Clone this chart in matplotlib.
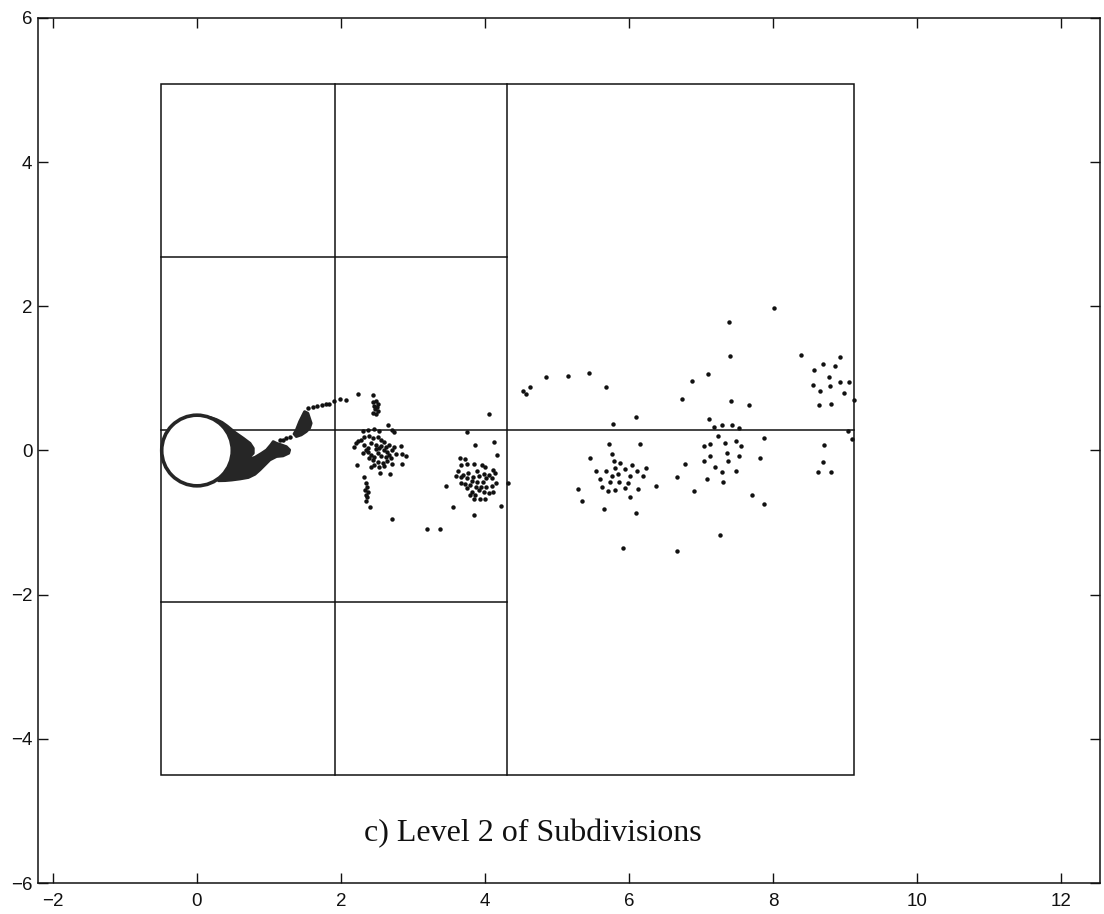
import matplotlib
matplotlib.use("Agg")
import matplotlib.pyplot as plt
from matplotlib.patches import Circle, Polygon, Rectangle

# ---------------- data ----------------
# subdivision boxes
box_x = [-0.50, 9.12]
box_y = [-4.50, 5.08]
level1_x = 4.30
level1_y = 0.29
level2_x = 1.91
level2_y = [2.69, -2.10]

# cylinder
cyl_center = (0.0, 0.0)
cyl_radius = 0.49

# dense wake blob attached to cylinder (outline)
wake_blob_x = [0.18, 0.27, 0.35, 0.42, 0.529, 0.644, 0.736, 0.782, 0.782, 0.736, 0.667, 0.644, 0.690,
               0.805, 0.897, 0.966, 1.025, 1.058, 1.104, 1.173, 1.241, 1.287, 1.274,
               1.195, 1.104, 1.012, 0.943, 0.874, 0.805, 0.713, 0.598, 0.483, 0.391, 0.30,
               0.20, 0.0, 0.10]
wake_blob_y = [0.46, 0.43, 0.39, 0.34, 0.250, 0.170, 0.101, 0.031, -0.038, -0.084, -0.098, -0.075, -0.131,
               -0.094, -0.038, 0.008, 0.078, 0.124, 0.101, 0.078, 0.054, 0.008, -0.038,
               -0.075, -0.084, -0.131, -0.200, -0.269, -0.330, -0.375, -0.395, -0.410, -0.418, -0.42,
               -0.30, 0.0, 0.30]

# second small dense blob
upper_blob_x = [1.379, 1.425, 1.471, 1.494, 1.540, 1.563, 1.586, 1.563, 1.517, 1.448, 1.379, 1.347]
upper_blob_y = [0.285, 0.401, 0.494, 0.540, 0.517, 0.447, 0.378, 0.309, 0.262, 0.216, 0.193, 0.230]

# individual vortex particles
particles_x = [
    # trail
    1.15, 1.19, 1.24, 1.29, 1.54, 1.61, 1.67, 1.73, 1.79, 1.84, 1.90, 1.98, 2.07, 2.23, 2.45,
    # small cluster
    2.45, 2.49, 2.52, 2.46, 2.50, 2.47, 2.51, 2.45, 2.49,
    # cluster near x=2.5
    2.65, 2.71, 2.74, 2.30, 2.37, 2.46, 2.53, 2.21, 2.18, 2.23, 2.28, 2.32, 2.39, 2.44,
    2.51, 2.55, 2.60, 2.67, 2.74, 2.83, 2.32, 2.37, 2.41, 2.48, 2.53, 2.60, 2.64, 2.71,
    2.76, 2.85, 2.90, 2.30, 2.37, 2.41, 2.46, 2.51, 2.55, 2.62, 2.67, 2.44, 2.51, 2.58,
    2.64, 2.71, 2.85, 2.22, 2.46, 2.53, 2.60, 2.35, 2.39, 2.48, 2.55, 2.62, 2.69, 2.41,
    2.54, 2.68,
    # trail below
    2.32, 2.35, 2.36, 2.33, 2.37, 2.35, 2.36, 2.35, 2.40, 2.71, 3.20, 3.38,
    # cluster near x=4
    3.65, 3.72, 3.85, 3.96, 4.00, 3.66, 3.75, 3.63, 3.70, 3.77, 3.89, 3.98, 4.06, 4.11,
    4.14, 3.83, 3.92, 3.60, 3.67, 3.75, 3.82, 3.89, 3.97, 4.02, 4.09, 4.15, 3.66, 3.72,
    3.79, 3.88, 3.95, 4.02, 4.09, 4.11, 3.75, 3.82, 3.91, 3.99, 4.06, 3.79, 3.86, 3.93,
    4.00, 3.84,
    3.46, 3.56, 3.84, 4.22, 4.32, 4.05, 3.86, 4.13, 4.17, 3.75,
    # cluster near x=6
    4.53, 4.57, 4.62, 4.85, 5.15, 5.45, 5.68, 5.78, 6.09, 6.15, 5.72, 5.77, 5.46, 5.79,
    5.88, 6.04, 6.23, 5.54, 5.68, 5.80, 5.94, 6.11, 5.59, 5.76, 5.85, 6.01, 6.20, 5.62,
    5.73, 5.86, 5.99, 5.71, 5.80, 5.94, 6.12, 6.02, 5.29, 5.34, 5.65, 6.09, 6.38, 5.92,
    6.66, 6.66, 6.77, 6.73, 6.87, 7.10, 7.11, 7.18, 7.23, 7.04, 7.13, 7.13, 7.04, 7.19,
    7.08, 6.90, 7.26,
    # cluster near x=7.4
    8.01, 7.39, 7.40, 8.39, 7.41, 7.67, 7.29, 7.43, 7.53, 7.88, 7.33, 7.48, 7.56, 7.36,
    7.37, 7.53, 7.82, 7.29, 7.48, 7.30, 7.71, 7.88,
    # cluster near x=8.8
    8.57, 8.70, 8.86, 8.93, 8.78, 8.56, 8.65, 8.79, 8.93, 9.06, 8.98, 8.64, 8.81, 9.12,
    9.04, 9.10, 8.71, 8.70, 8.62, 8.81,
]
particles_y = [
    # trail
    0.14, 0.15, 0.17, 0.185, 0.59, 0.61, 0.62, 0.63, 0.64, 0.65, 0.68, 0.72, 0.70, 0.79, 0.77,
    # small cluster
    0.67, 0.68, 0.65, 0.62, 0.60, 0.57, 0.55, 0.52, 0.50,
    # cluster near x=2.5
    0.355, 0.285, 0.262, 0.276, 0.285, 0.295, 0.276, 0.100, 0.045, 0.138, 0.147, 0.184, 0.202, 0.170,
    0.184, 0.147, 0.124, 0.078, 0.054, 0.064, 0.078, 0.031, 0.100, 0.078, 0.031, 0.008, -0.015, 0.008,
    -0.047, -0.047, -0.075, -0.038, -0.015, -0.061, -0.084, -0.038, -0.075, -0.094, -0.061, -0.130, -0.154, -0.177,
    -0.140, -0.186, -0.186, -0.200, -0.200, -0.223, -0.214, 0.008, -0.107, 0.017, 0.064, 0.045, -0.107, -0.223,
    -0.306, -0.325,
    # trail below
    -0.371, -0.454, -0.500, -0.547, -0.570, -0.616, -0.640, -0.700, -0.780, -0.953, -1.083, -1.088,
    # cluster near x=4
    -0.107, -0.121, -0.190, -0.200, -0.223, -0.200, -0.190, -0.279, -0.339, -0.306, -0.279, -0.325, -0.339, -0.270,
    -0.316, -0.362, -0.353, -0.353, -0.371, -0.385, -0.422, -0.431, -0.431, -0.376, -0.376, -0.445, -0.454, -0.463,
    -0.477, -0.500, -0.510, -0.510, -0.490, -0.570, -0.524, -0.570, -0.547, -0.570, -0.593, -0.616, -0.616, -0.676,
    -0.676, -0.670,
    -0.490, -0.787, -0.893, -0.770, -0.445, 0.507, 0.073, 0.119, -0.061, 0.262,
    # cluster near x=6
    0.830, 0.780, 0.886, 1.025, 1.034, 1.071, 0.886, 0.369, 0.470, 0.087, 0.091, -0.047, -0.107, -0.140,
    -0.177, -0.200, -0.246, -0.283, -0.279, -0.246, -0.256, -0.279, -0.390, -0.348, -0.330, -0.353, -0.353, -0.510,
    -0.440, -0.431, -0.445, -0.556, -0.547, -0.524, -0.533, -0.640, -0.537, -0.700, -0.810, -0.870, -0.486, -1.356,
    -1.393, -0.362, -0.190, 0.715, 0.965, 1.062, 0.433, 0.331, 0.207, 0.063, 0.091, -0.075, -0.140, -0.223,
    -0.400, -0.565, -1.175,
    # cluster near x=7.4
    1.973, 1.788, 1.312, 1.321, 0.692, 0.632, 0.355, 0.355, 0.309, 0.179, 0.101, 0.133, 0.068, -0.038,
    -0.140, -0.075, -0.107, -0.292, -0.279, -0.436, -0.620, -0.745,
    # cluster near x=8.8
    1.118, 1.196, 1.173, 1.293, 1.025, 0.905, 0.826, 0.896, 0.956, 0.951, 0.803, 0.628, 0.642, 0.702,
    0.272, 0.165, 0.078, -0.158, -0.302, -0.292,
]

x_ticks = [-2, 0, 2, 4, 6, 8, 10, 12]
y_ticks = [-6, -4, -2, 0, 2, 4, 6]
caption = "c) Level 2 of Subdivisions"
caption_pos = (4.67, -5.31)

# ---------------- figure ----------------
fig = plt.figure(figsize=(11.04, 9.14), dpi=100)
ax = fig.add_axes([38 / 1104, 1 - 883 / 914, (1100 - 38) / 1104, (883 - 18) / 914])
ax.set_xlim(-2.208, 12.54)
ax.set_ylim(-6, 6)

line_kw = dict(color="#111111", lw=1.1, zorder=1)
ax.add_patch(Rectangle((box_x[0], box_y[0]), box_x[1] - box_x[0], box_y[1] - box_y[0],
                       fill=False, ec="#111111", lw=1.1, zorder=1))
ax.plot([level1_x, level1_x], box_y, **line_kw)
ax.plot(box_x, [level1_y, level1_y], **line_kw)
ax.plot([level2_x, level2_x], box_y, **line_kw)
for yy in level2_y:
    ax.plot([box_x[0], level1_x], [yy, yy], **line_kw)

ax.add_patch(Polygon(list(zip(wake_blob_x, wake_blob_y)), closed=True,
                     fc="#262626", ec="#262626", lw=2.0, joinstyle="round", zorder=2))
ax.add_patch(Polygon(list(zip(upper_blob_x, upper_blob_y)), closed=True,
                     fc="#262626", ec="#262626", lw=2.0, joinstyle="round", zorder=2))
ax.add_patch(Circle(cyl_center, cyl_radius, fc="white", ec="#262626", lw=2.6, zorder=3))

ax.plot(particles_x, particles_y, "o", color="#111111", ms=3.2, mew=0, zorder=4)

ax.text(caption_pos[0], caption_pos[1], caption, ha="center", va="center",
        fontsize=23, family="Liberation Serif", color="#111111")

ax.set_xticks(x_ticks)
ax.set_yticks(y_ticks)
ax.tick_params(direction="in", length=7, width=1.0, top=True, right=True,
               labelsize=13.5, colors="#111111")
ax.tick_params(axis="x", pad=7)
ax.tick_params(axis="y", pad=4)
for lab in ax.get_xticklabels() + ax.get_yticklabels():
    lab.set_family("Liberation Sans")
for sp in ax.spines.values():
    sp.set_linewidth(1.1)
    sp.set_color("#111111")

fig.savefig("out.png", dpi=100, facecolor="white")
